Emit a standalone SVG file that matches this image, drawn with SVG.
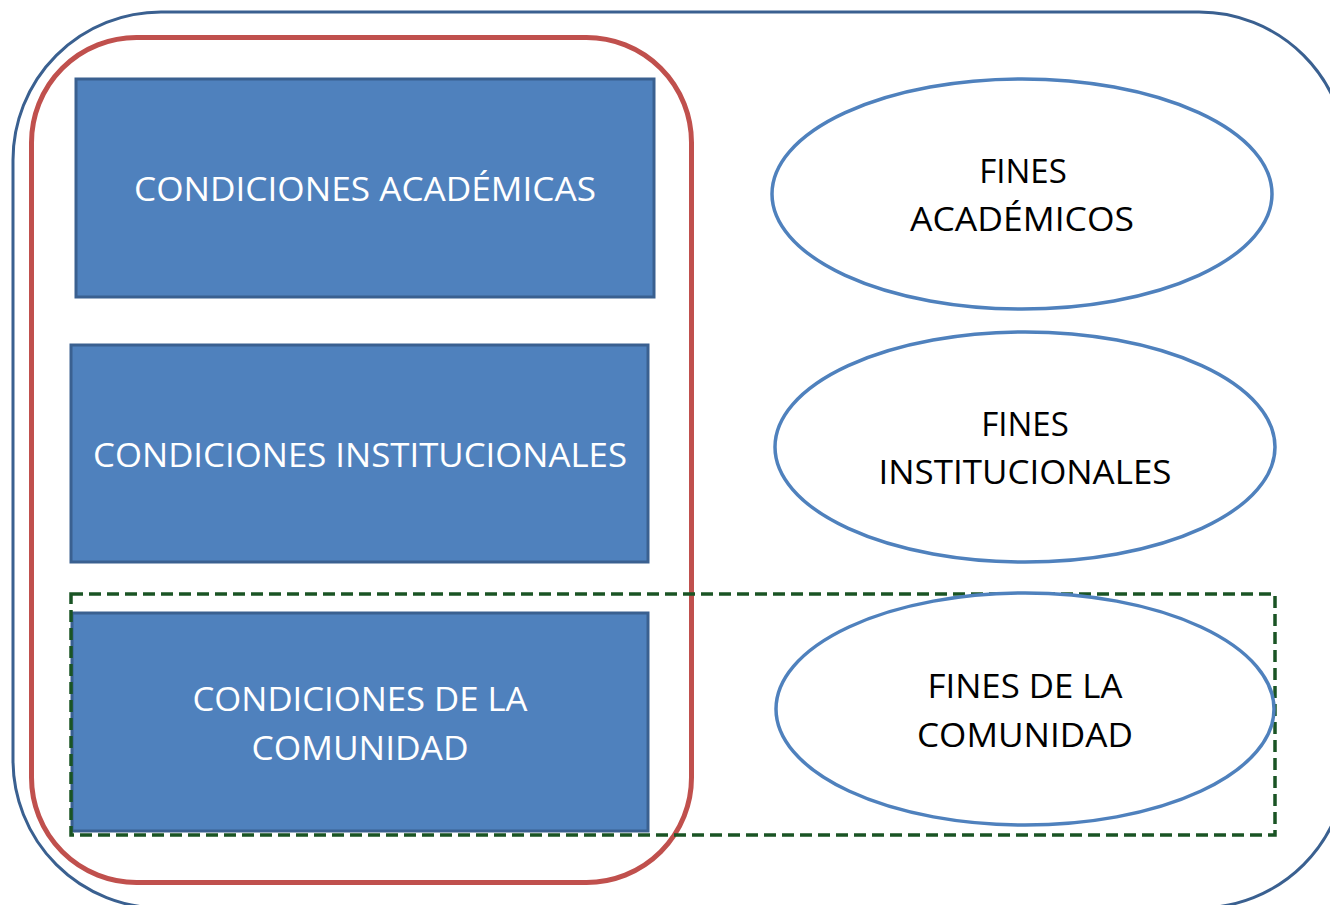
<svg xmlns="http://www.w3.org/2000/svg" width="1330" height="905" viewBox="0 0 1330 905">
<style>
.box{fill:#4f81bd;stroke:#3a6090;stroke-width:3}
.ell{fill:#ffffff;stroke:#4f81bd;stroke-width:3.5}
.wt{font-family:"Open Sans","Liberation Sans",sans-serif;font-size:33px;fill:#ffffff;text-anchor:middle}
.bt{font-family:"Open Sans","Liberation Sans",sans-serif;font-size:33px;fill:#000000;text-anchor:middle}
</style>
<rect width="1330" height="905" fill="#ffffff"/>
<g id="outer"><rect x="13" y="12" width="1334" height="896" rx="148" ry="148" fill="none" stroke="#3a6090" stroke-width="3"/></g>
<g id="conditions-group"><rect x="31.5" y="37.5" width="660" height="845" rx="105" ry="105" fill="none" stroke="#c0504d" stroke-width="5"/></g>
<g id="cond-academicas">
<rect class="box" x="76" y="79" width="578" height="218"/>
<text class="wt" x="365" y="201" textLength="462" lengthAdjust="spacingAndGlyphs">CONDICIONES ACADÉMICAS</text>
</g>
<g id="cond-institucionales">
<rect class="box" x="71" y="345" width="577" height="217"/>
<text class="wt" x="360" y="467" textLength="534" lengthAdjust="spacingAndGlyphs">CONDICIONES INSTITUCIONALES</text>
</g>
<g id="cond-comunidad">
<rect class="box" x="72" y="613" width="576" height="218"/>
<text class="wt" x="360" y="711" textLength="335" lengthAdjust="spacingAndGlyphs">CONDICIONES DE LA</text>
<text class="wt" x="360" y="760" textLength="217" lengthAdjust="spacingAndGlyphs">COMUNIDAD</text>
</g>
<g id="comunidad-group"><rect x="71" y="594" width="1204" height="241" fill="none" stroke="#1a5424" stroke-width="3.5" stroke-dasharray="12,6"/></g>
<g id="fines-academicos">
<ellipse class="ell" cx="1022" cy="194" rx="250" ry="115"/>
<text class="bt" x="1023" y="183">FINES</text>
<text class="bt" x="1022" y="231" textLength="224" lengthAdjust="spacingAndGlyphs">ACADÉMICOS</text>
</g>
<g id="fines-institucionales">
<ellipse class="ell" cx="1025" cy="447" rx="250" ry="115"/>
<text class="bt" x="1025" y="436">FINES</text>
<text class="bt" x="1025" y="484" textLength="293" lengthAdjust="spacingAndGlyphs">INSTITUCIONALES</text>
</g>
<g id="fines-comunidad">
<ellipse class="ell" cx="1025" cy="709" rx="249" ry="116"/>
<text class="bt" x="1025" y="698" textLength="195" lengthAdjust="spacingAndGlyphs">FINES DE LA</text>
<text class="bt" x="1025" y="747" textLength="216" lengthAdjust="spacingAndGlyphs">COMUNIDAD</text>
</g>
<g id="connectors"/>
</svg>
